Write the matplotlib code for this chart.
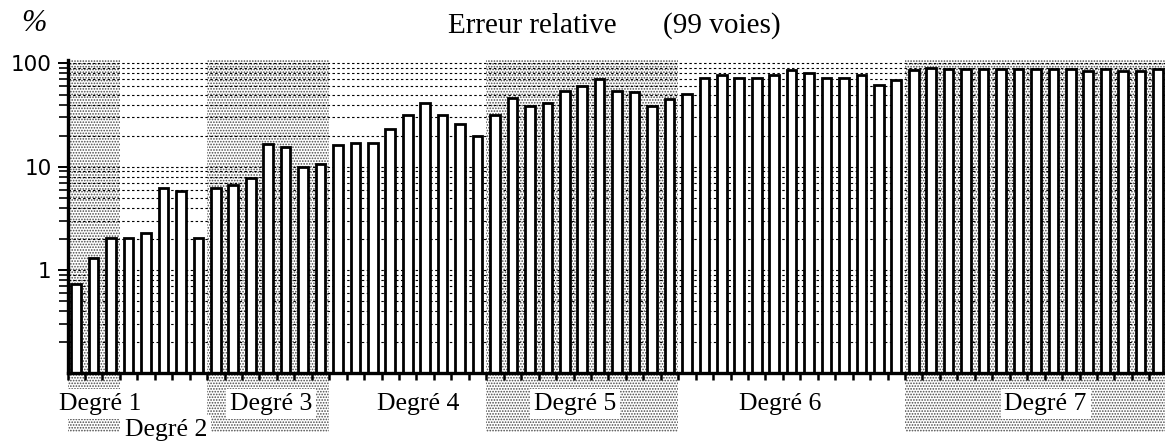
import matplotlib
matplotlib.use("Agg")
import matplotlib.pyplot as plt
import matplotlib.ticker as mticker
from matplotlib.patches import Rectangle
import numpy as np

# relative error per channel, grouped by polynomial degree
degres = [1, 2, 3, 4, 5, 6, 7]
voies_par_degre = [3, 5, 7, 9, 11, 13, 15]
erreur = [
    0.73, 1.31, 2.04,
    2.04, 2.26, 6.15, 5.84, 2.04,
    6.24, 6.63, 7.69, 16.4, 15.5, 10.0, 10.5,
    16.1, 16.8, 16.8, 23.4, 31.9, 41.7, 31.9, 25.7, 19.9,
    31.9, 46.3, 38.7, 41.7, 54.1, 59.9, 71.2, 53.6, 52.8, 38.7, 45.6,
    50.1, 72.1, 76.6, 72.8, 72.8, 76.6, 85.6, 81.3, 72.8, 72.1, 76.6, 61.3, 68.5,
    85.6, 90.2, 89.0, 87.5, 89.0, 87.5, 87.5, 89.0, 87.5, 87.5, 83.7, 89.0, 84.0, 84.0, 87.5,
]
titre = "Erreur relative"
sous_titre = "(99 voies)"

# label placement under the axis (x in channel units, y in axes fraction)
label_x = [2.40, 6.13, 12.15, 20.57, 29.6, 41.37, 56.56]
label_y = [-0.118, -0.201, -0.118, -0.118, -0.118, -0.118, -0.118]

W, H = 1165, 442
fig = plt.figure(figsize=(W / 100, H / 100), dpi=100)
ax = fig.add_axes([67.5 / W, (H - 373) / H, 1 - 67.5 / W, (373 - 60) / H])

x = np.arange(1, len(erreur) + 1)
xmax = 63.4
ax.set_xlim(0.5, xmax)
ax.set_yscale("log")
ax.set_ylim(0.1, 108)

# stippled bands for odd degrees, running from the top of the plot down under the labels
plt.rcParams["hatch.linewidth"] = 0.8
trans = ax.get_xaxis_transform()
start = 0.5
for d, n in zip(degres, voies_par_degre):
    end = start + n
    if d % 2 == 1:
        right = min(end, xmax)
        ax.add_patch(Rectangle((start, -0.1885), right - start, 1.1885, transform=trans,
                               facecolor="white", edgecolor="#4a4a4a", hatch="......",
                               linewidth=0, zorder=0, clip_on=False))
    start = end

ax.grid(True, which="both", axis="y", color="black", linestyle=(0, (2.2, 2.2)),
        linewidth=0.8, zorder=1)
ax.set_axisbelow(True)

ax.bar(x, erreur, width=0.55, color="white", edgecolor="black", linewidth=2.0, zorder=2)

for sp in ["top", "right"]:
    ax.spines[sp].set_visible(False)
for sp in ["left", "bottom"]:
    ax.spines[sp].set_linewidth(2.4)
    ax.spines[sp].set_zorder(3)

ax.xaxis.set_major_locator(mticker.FixedLocator(np.arange(0.5, xmax, 1.0)))
ax.xaxis.set_major_formatter(mticker.NullFormatter())
ax.tick_params(axis="x", direction="out", length=5, width=1.8, color="black")

ax.yaxis.set_minor_locator(mticker.LogLocator(base=10, subs=np.arange(2, 10), numticks=10))
ax.yaxis.set_minor_formatter(mticker.NullFormatter())
ax.set_yticks([1, 10, 100])
ax.set_yticklabels(["1", "10", "100"])
ax.tick_params(axis="y", which="major", direction="out", length=7.5, width=1.4, pad=4,
               labelsize=15.5)
ax.tick_params(axis="y", which="minor", direction="out", length=6.5, width=1.2)
for lab in ax.get_yticklabels():
    lab.set_family("DejaVu Sans")

serif = ["Liberation Serif", "DejaVu Serif"]
for d, lx, ly in zip(degres, label_x, label_y):
    ax.text(lx, ly, f"Degré {d}", transform=trans, ha="center", va="baseline",
            fontsize=18.5, family=serif, zorder=4, clip_on=False,
            bbox=dict(boxstyle="square,pad=0.15", facecolor="white", edgecolor="none"))

fig.text(448 / W, 1 - 33 / H, titre, ha="left", va="baseline", fontsize=21, family=serif)
fig.text(663 / W, 1 - 33 / H, sous_titre, ha="left", va="baseline", fontsize=21, family=serif)
fig.text(21 / W, 1 - 31 / H, "%", ha="left", va="baseline", fontsize=22, family=serif,
         style="italic")

fig.savefig("out.png", dpi=100)
